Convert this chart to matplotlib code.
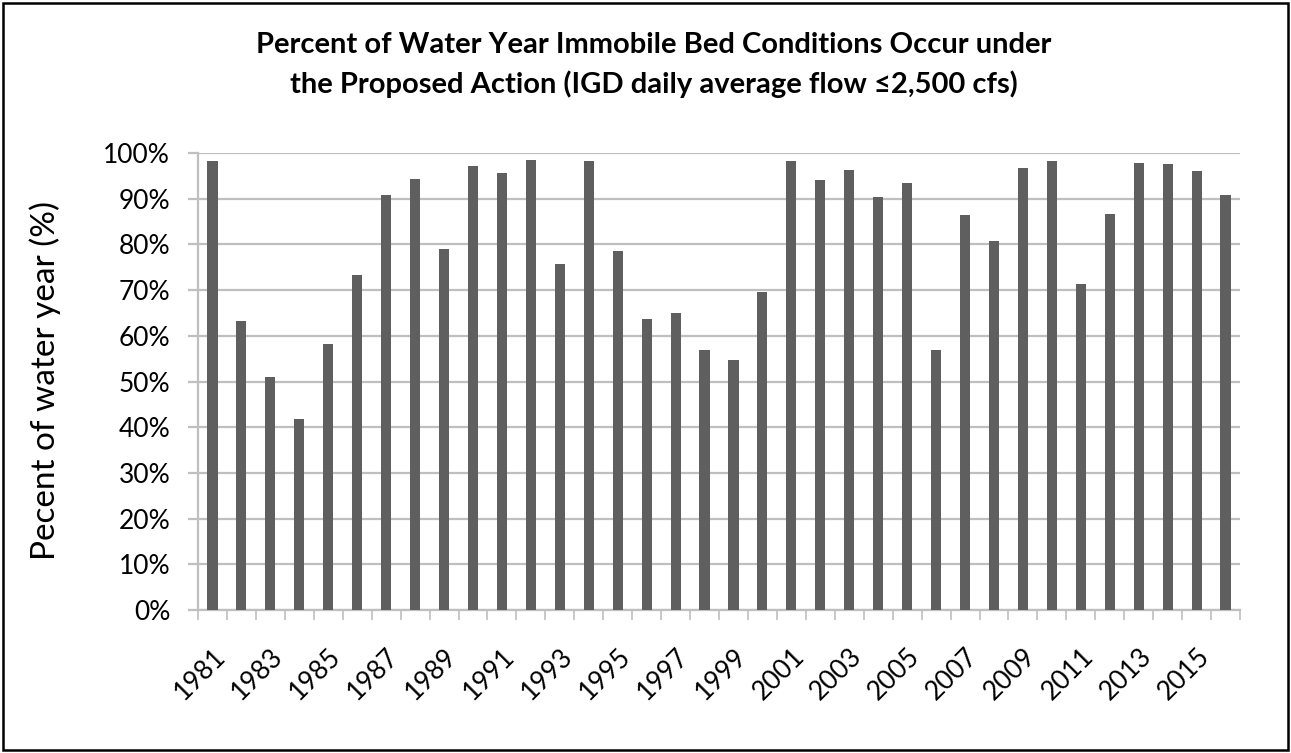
import numpy as np
import matplotlib.pyplot as plt
from matplotlib.patches import Rectangle
from matplotlib.ticker import PercentFormatter

plt.rcParams['font.family'] = ['Lato', 'DejaVu Sans']

# water years and percent of year with immobile bed conditions
years = list(range(1981, 2017))
pct = [98.2, 63.2, 50.9, 41.7, 58.2, 73.3, 90.9, 94.3, 78.9, 97.1,
       95.7, 98.5, 75.8, 98.2, 78.6, 63.7, 64.9, 57.0, 54.6, 69.6,
       98.2, 94.0, 96.2, 90.4, 93.4, 57.0, 86.5, 80.8, 96.8, 98.2,
       71.3, 86.7, 97.9, 97.7, 96.0, 90.9]
yticks = [0, 10, 20, 30, 40, 50, 60, 70, 80, 90, 100]

grey = '#bfbfbf'

fig = plt.figure(figsize=(12.91, 7.53), dpi=100)
ax = fig.add_axes([198 / 1291, 1 - 610 / 753, (1240 - 198) / 1291, (610 - 153) / 753])

x = np.arange(len(years))
ax.bar(x, pct, width=0.35, color='#5f5f5f', zorder=3)

ax.set_xlim(-0.5, len(years) - 0.5)
ax.set_ylim(0, 100)
ax.set_yticks(yticks)
ax.yaxis.set_major_formatter(PercentFormatter(decimals=0))
ax.grid(axis='y', color=grey, linewidth=1.6, zorder=0)

# labels on every other year, tick marks between categories
ax.set_xticks(x[::2])
ax.set_xticklabels([str(y) for y in years[::2]], rotation=45, ha='right',
                   rotation_mode='anchor', fontsize=19)
ax.set_xticks(np.arange(-0.5, len(years)), minor=True)
ax.tick_params(axis='x', which='major', length=0, pad=24)
ax.tick_params(axis='x', which='minor', length=7, width=1.2, color=grey)
ax.tick_params(axis='y', length=7, width=1.6, color=grey, labelsize=19, pad=13)

for s in ['top', 'right']:
    ax.spines[s].set_visible(False)
ax.spines['left'].set_color(grey)
ax.spines['left'].set_linewidth(1.6)
ax.spines['bottom'].set_color(grey)
ax.spines['bottom'].set_linewidth(1.6)

fig.text(45 / 1291, 1 - 381 / 753, 'Pecent of water year (%)', rotation=90,
         ha='center', va='center', fontsize=24)

fig.text(654 / 1291, 1 - 45 / 753, 'Percent of Water Year Immobile Bed Conditions Occur under',
         ha='center', va='center', fontsize=21, fontweight='bold')
fig.text(654 / 1291, 1 - 84 / 753, 'the Proposed Action (IGD daily average flow \u22642,500 cfs)',
         ha='center', va='center', fontsize=21, fontweight='bold')

fig.patches.append(Rectangle((3 / 1291, 3 / 753), 1 - 6 / 1291, 1 - 6 / 753,
                             transform=fig.transFigure, fill=False,
                             edgecolor='black', linewidth=1.8))

fig.savefig('out.png', dpi=100)
